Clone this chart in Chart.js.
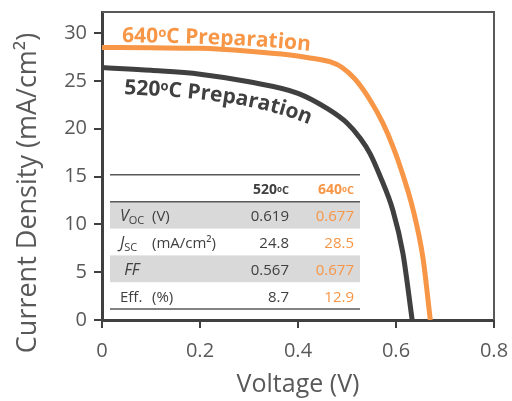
<!DOCTYPE html>
<html>
<head>
<meta charset="utf-8">
<script src="https://cdn.jsdelivr.net/npm/chart.js@4"></script>
<style>
  html, body { margin: 0; padding: 0; background: #fff; }
  #wrap { width: 512px; height: 401px; }
</style>
</head>
<body>
<div id="wrap"><canvas id="jv"></canvas></div>
<script>
// ── J-V data ────────────────────────────────────────────────────────────────
const volts640 = [0, 0.1, 0.2, 0.3, 0.384, 0.424, 0.465, 0.49, 0.516, 0.547, 0.573, 0.594, 0.612, 0.635, 0.655, 0.670];
const curr640  = [28.5, 28.45, 28.4, 28.1, 27.7, 27.4, 27.0, 26.4, 25.2, 23.0, 20.6, 18.1, 15.5, 11.5, 6.5, 0];
const volts520 = [0, 0.1, 0.2, 0.3, 0.4, 0.46, 0.5, 0.527, 0.547, 0.567, 0.594, 0.614, 0.633];
const curr520  = [26.4, 26.1, 25.7, 24.9, 23.7, 22.1, 20.6, 19.0, 17.4, 15.1, 11.4, 7.0, 0];

const xTicks = [0, 0.2, 0.4, 0.6, 0.8];
const yTicks = [0, 5, 10, 15, 20, 25, 30];
const yTitle = 'Current Density (mA/cm²)';

// inset table
const cellTemps = ['520', '640'];
const vals520 = ['0.619', '24.8', '0.567', '8.7'];
const vals640 = ['0.677', '28.5', '0.677', '12.9'];

const ORANGE = '#f79646';
const DARK = '#404040';
const TEXT = '#595959';
const FONT = '"Open Sans", "Noto Sans", sans-serif';

const pts = (xs, ys) => xs.map((x, i) => ({ x, y: ys[i] }));

// ── helpers ─────────────────────────────────────────────────────────────────
function drawRuns(ctx, x, y, runs, align) {
    let w = 0;
    runs.forEach(r => { ctx.font = r.font; w += ctx.measureText(r.text).width; });
    let cx = align === 'right' ? x - w : x;
    ctx.textAlign = 'left';
    ctx.textBaseline = 'alphabetic';
    runs.forEach(r => {
        ctx.font = r.font;
        ctx.fillStyle = r.color;
        ctx.fillText(r.text, cx, y - (r.rise || 0));
        cx += ctx.measureText(r.text).width;
    });
}

// lay glyphs one by one along a baseline that bends more towards its end
function arcText(ctx, runs, x, y, a0, a1) {
    const glyphs = [];
    let total = 0;
    runs.forEach(r => {
        ctx.font = r.font;
        for (const ch of r.text) {
            const w = ctx.measureText(ch).width;
            glyphs.push({ ch, w, font: r.font, rise: r.rise || 0, color: r.color });
            total += w;
        }
    });
    let dist = 0;
    ctx.textAlign = 'left';
    ctx.textBaseline = 'alphabetic';
    glyphs.forEach(g => {
        const t = (dist + g.w / 2) / total;
        const a = (a0 + (a1 - a0) * t * t) * Math.PI / 180;
        ctx.save();
        ctx.translate(x, y);
        ctx.rotate(a);
        ctx.font = g.font;
        ctx.fillStyle = g.color;
        ctx.fillText(g.ch, 0, -g.rise);
        ctx.restore();
        x += Math.cos(a) * g.w;
        y += Math.sin(a) * g.w;
        dist += g.w;
    });
}

// ── plugins ─────────────────────────────────────────────────────────────────
const framePlugin = {
    id: 'frame',
    afterDraw(chart) {
        const { ctx, chartArea: a } = chart;
        ctx.save();
        ctx.strokeStyle = TEXT;
        ctx.lineWidth = 2;
        ctx.beginPath();
        ctx.moveTo(a.left, a.top);
        ctx.lineTo(a.right, a.top);
        ctx.lineTo(a.right, a.bottom);
        ctx.stroke();

        // y title sits a little below the middle of the axis
        ctx.translate(28, a.bottom - 127);
        ctx.rotate(-Math.PI / 2);
        ctx.font = `27px ${FONT}`;
        ctx.fillStyle = TEXT;
        ctx.textAlign = 'center';
        ctx.textBaseline = 'middle';
        ctx.fillText(yTitle, 0, 0);
        ctx.restore();
    }
};

const tablePlugin = {
    id: 'summaryTable',
    beforeDatasetsDraw(chart) {
        const { ctx, chartArea: a } = chart;
        const left = a.left + 8, right = a.left + 258;
        const headH = 27, rowH = 26.8;
        const top = a.bottom - 11 - headH - 4 * rowH;
        const c1 = a.left + 187, c2 = a.left + 252;
        ctx.save();

        // shaded rows
        ctx.fillStyle = '#d9d9d9';
        [0, 2].forEach(i => ctx.fillRect(left, top + headH + i * rowH, right - left, rowH));

        // rules
        ctx.strokeStyle = TEXT;
        ctx.lineWidth = 1.5;
        [top, top + headH, top + headH + 4 * rowH].forEach(y => {
            ctx.beginPath(); ctx.moveTo(left, y); ctx.lineTo(right, y); ctx.stroke();
        });

        // header
        const hb = top + 19;
        [[c1, DARK], [c2, ORANGE]].forEach(([cx, col], i) => {
            drawRuns(ctx, cx, hb, [
                { text: cellTemps[i], font: `bold 14px ${FONT}`, color: col },
                { text: 'o', font: `bold 8px ${FONT}`, color: col, rise: 2 },
                { text: 'C', font: `bold 11px ${FONT}`, color: col }
            ], 'right');
        });

        const f = `15px ${FONT}`, it = `italic 16px ${FONT}`, sub = `11px ${FONT}`;
        const labels = [
            [{ text: 'V', font: it, color: DARK }, { text: 'OC', font: sub, color: DARK, rise: -3 }],
            [{ text: 'J', font: it, color: DARK }, { text: 'SC', font: sub, color: DARK, rise: -3 }],
            [{ text: ' FF', font: it, color: DARK }],
            [{ text: 'Eff.', font: f, color: DARK }]
        ];
        const units = ['(V)', '(mA/cm²)', '', '(%)'];
        for (let i = 0; i < 4; i++) {
            const b = top + headH + i * rowH + 19.5;
            drawRuns(ctx, a.left + 18, b, labels[i]);
            if (units[i]) drawRuns(ctx, a.left + 50, b, [{ text: units[i], font: f, color: DARK }]);
            drawRuns(ctx, c1, b, [{ text: vals520[i], font: f, color: DARK }], 'right');
            drawRuns(ctx, c2, b, [{ text: vals640[i], font: f, color: ORANGE }], 'right');
        }
        ctx.restore();
    }
};

const curveLabels = {
    id: 'curveLabels',
    afterDatasetsDraw(chart) {
        const { ctx, chartArea: a } = chart;
        const big = `bold 21px ${FONT}`, small = `bold 13px ${FONT}`;
        ctx.save();
        arcText(ctx, [
            { text: '640', font: big, color: ORANGE },
            { text: 'o', font: small, color: ORANGE, rise: 6 },
            { text: 'C Preparation', font: big, color: ORANGE }
        ], a.left + 20, a.top + 30, 1, 6);
        arcText(ctx, [
            { text: '520', font: big, color: DARK },
            { text: 'o', font: small, color: DARK, rise: 6 },
            { text: 'C Preparation', font: big, color: DARK }
        ], a.left + 22, a.top + 82, 3, 22);
        ctx.restore();
    }
};

// ── chart ───────────────────────────────────────────────────────────────────
const ctx = document.getElementById('jv').getContext('2d');
const chart = new Chart(ctx, {
    type: 'line',
    data: {
        datasets: [
            {
                label: '520 C',
                data: pts(volts520, curr520),
                borderColor: DARK,
                borderWidth: 5,
                pointRadius: 0,
                fill: false,
                cubicInterpolationMode: 'monotone'
            },
            {
                label: '640 C',
                data: pts(volts640, curr640),
                borderColor: ORANGE,
                borderWidth: 5,
                pointRadius: 0,
                fill: false,
                cubicInterpolationMode: 'monotone'
            }
        ]
    },
    options: {
        responsive: true,
        maintainAspectRatio: false,
        animation: false,
        layout: { padding: { top: 12, right: 18, left: 0, bottom: 0 } },
        plugins: { legend: { display: false }, tooltip: { enabled: false } },
        scales: {
            x: {
                type: 'linear',
                min: 0, max: 0.8,
                afterBuildTicks: s => { s.ticks = xTicks.map(v => ({ value: v })); },
                afterFit: s => { s.height = 81; s.paddingLeft = 0; s.paddingRight = 0; },
                border: { color: DARK, width: 3 },
                grid: { drawOnChartArea: false, color: DARK, lineWidth: 2, tickLength: 8 },
                ticks: { color: TEXT, padding: 11, maxRotation: 0, font: { family: FONT, size: 20 } },
                title: { display: true, text: 'Voltage (V)', color: TEXT, padding: { top: 0, bottom: 1 }, font: { family: FONT, size: 25 } }
            },
            y: {
                min: 0, max: 32.2,
                afterBuildTicks: s => { s.ticks = yTicks.map(v => ({ value: v })); },
                afterFit: s => { s.width = 102; s.paddingTop = 0; s.paddingBottom = 0; },
                border: { color: DARK, width: 3 },
                grid: { drawOnChartArea: false, color: DARK, lineWidth: 2, tickLength: 8 },
                ticks: { color: TEXT, padding: 7, font: { family: FONT, size: 20 } },
                title: { display: false }
            }
        }
    },
    plugins: [framePlugin, tablePlugin, curveLabels]
});
</script>
</body>
</html>
